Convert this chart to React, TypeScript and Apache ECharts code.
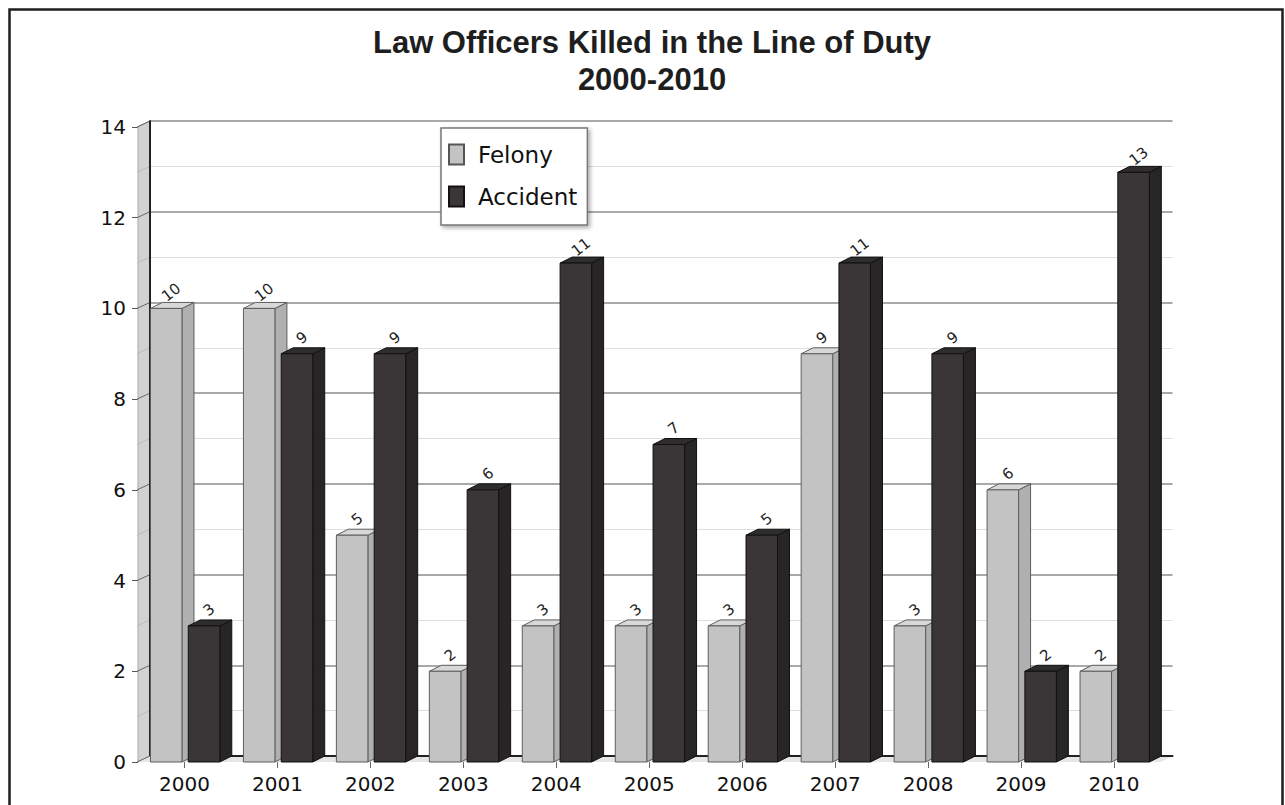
import React, { useEffect, useRef } from 'react';
import * as echarts from 'echarts';

const years = ['2000', '2001', '2002', '2003', '2004', '2005', '2006', '2007', '2008', '2009', '2010'];
const felony = [10, 10, 5, 2, 3, 3, 3, 9, 3, 6, 2];
const accident = [3, 9, 9, 6, 11, 7, 5, 11, 9, 2, 13];
const yMin = 0;
const yMax = 14;
const yInterval = 2;

const DX = 12;
const DY = -6;
const BAR_W = 31.5;

const felonyColors = { front: '#c3c3c3', top: '#d8d8d8', side: '#b0b0b0', stroke: '#5e5e5e' };
const accidentColors = { front: '#3a3637', top: '#2f2c2d', side: '#282526', stroke: '#111111' };

function makeBarRender(offset: number, colors: any) {
  return (params: any, api: any) => {
    const idx = api.value(0);
    const v = api.value(1);
    const top = api.coord([idx, v]);
    const base = api.coord([idx, 0]);
    const x0 = top[0] + offset;
    const x1 = x0 + BAR_W;
    const yt = top[1];
    const yb = base[1];
    return {
      type: 'group',
      children: [
        {
          type: 'polygon',
          shape: { points: [[x1, yt], [x1 + DX, yt + DY], [x1 + DX, yb + DY], [x1, yb]] },
          style: { fill: colors.side, stroke: colors.stroke, lineWidth: 1 },
        },
        {
          type: 'polygon',
          shape: { points: [[x0, yt], [x0 + DX, yt + DY], [x1 + DX, yt + DY], [x1, yt]] },
          style: { fill: colors.top, stroke: colors.stroke, lineWidth: 1 },
        },
        {
          type: 'rect',
          shape: { x: x0, y: yt, width: BAR_W, height: yb - yt },
          style: { fill: colors.front, stroke: colors.stroke, lineWidth: 1 },
        },
        {
          type: 'text',
          x: x0 + BAR_W / 2 + 5,
          y: yt - 16,
          rotation: (38 * Math.PI) / 180,
          style: {
            text: String(v),
            fill: '#222',
            font: '15px "DejaVu Sans"',
            align: 'center',
            verticalAlign: 'middle',
          },
        },
      ],
    };
  };
}

function decorRender(params: any, api: any) {
  const bw = api.size([1, 0])[0];
  const L = api.coord([0, 0])[0] - bw / 2;
  const R = api.coord([years.length - 1, 0])[0] + bw / 2;
  const y0 = api.coord([0, yMin])[1];
  const yTop = api.coord([0, yMax])[1];
  const children: any[] = [];
  children.push({
    type: 'polygon',
    shape: { points: [[L, y0], [L + DX, y0 + DY], [L + DX, yTop + DY], [L, yTop]] },
    style: { fill: '#d2d2d2', stroke: '#a8a8a8', lineWidth: 1 },
  });
  children.push({
    type: 'polygon',
    shape: { points: [[L, y0], [R, y0], [R + DX, y0 + DY], [L + DX, y0 + DY]] },
    style: { fill: '#e6e6e6', stroke: 'none' },
  });
  for (let k = yMin; k <= yMax; k++) {
    const yk = api.coord([0, k])[1];
    children.push({
      type: 'line',
      shape: { x1: L - 1, y1: yk, x2: L + DX, y2: yk + DY },
      style: { stroke: k % 2 === 0 ? '#666' : '#bcbcbc', lineWidth: 1 },
    });
  }
  children.push({
    type: 'line',
    shape: { x1: L + DX, y1: y0 + DY, x2: R + DX, y2: y0 + DY },
    style: { stroke: '#222', lineWidth: 2 },
  });
  children.push({
    type: 'line',
    shape: { x1: L + DX, y1: y0 + DY, x2: L + DX, y2: yTop + DY },
    style: { stroke: '#222', lineWidth: 2 },
  });
  return { type: 'group', children };
}

export default function App() {
  const ref = useRef<HTMLDivElement>(null);
  useEffect(() => {
    if (!ref.current) return;
    const chart = echarts.init(ref.current, null, { renderer: 'svg' });
    const gridW = 1022.5;
    const gridH = 635;
    chart.setOption({
      animation: false,
      backgroundColor: '#ffffff',
      title: {
        text: 'Law Officers Killed in the Line of Duty\n2000-2010',
        left: 647,
        textAlign: 'center',
        top: 19,
        textStyle: {
          fontFamily: '"Liberation Sans", Arial, sans-serif',
          fontWeight: 'bold',
          fontSize: 31,
          lineHeight: 37,
          color: '#1e1e1e',
        },
      },
      graphic: [
        {
          type: 'rect',
          shape: { x: 9.5, y: 9.5, width: 1273, height: 830 },
          style: { fill: 'none', stroke: '#1e1e1e', lineWidth: 2.5 },
          silent: true,
          z: 10,
        },
      ],
      legend: {
        data: ['Felony', 'Accident'],
        orient: 'vertical',
        left: 441,
        top: 128,
        itemWidth: 15,
        itemHeight: 20,
        itemGap: 19,
        padding: [15, 10, 17, 7],
        backgroundColor: '#ffffff',
        borderColor: '#777',
        borderWidth: 1.5,
        shadowBlur: 4,
        shadowColor: 'rgba(0,0,0,0.35)',
        shadowOffsetX: 2,
        shadowOffsetY: 2,
        icon: 'rect',
        textStyle: {
          fontFamily: '"DejaVu Sans", sans-serif',
          fontSize: 23,
          color: '#111',
          padding: [0, 0, 0, 9],
        },
      },
      grid: [
        { left: 138, top: 127, width: gridW, height: gridH },
        { left: 138 + DX, top: 127 + DY, width: gridW, height: gridH },
      ],
      xAxis: [
        {
          type: 'category',
          gridIndex: 0,
          data: years,
          axisLine: { show: false },
          axisTick: { show: true, alignWithLabel: true, length: 6, lineStyle: { color: '#666' } },
          axisLabel: {
            fontFamily: '"DejaVu Sans", sans-serif',
            fontSize: 20,
            color: '#111',
            margin: 12,
          },
          splitLine: { show: false },
        },
        {
          type: 'category',
          gridIndex: 1,
          data: years,
          axisLine: { show: true, lineStyle: { color: '#222', width: 2 } },
          axisTick: { show: false },
          axisLabel: { show: false },
          splitLine: { show: false },
        },
      ],
      yAxis: [
        {
          type: 'value',
          gridIndex: 0,
          min: yMin,
          max: yMax,
          interval: yInterval,
          axisLine: { show: false },
          axisTick: { show: true, length: 6, lineStyle: { color: '#555' } },
          axisLabel: {
            fontFamily: '"DejaVu Sans", sans-serif',
            fontSize: 20,
            color: '#111',
            margin: 12,
          },
          splitLine: { show: false },
        },
        {
          type: 'value',
          gridIndex: 1,
          min: yMin,
          max: yMax,
          interval: yInterval,
          axisLine: { show: true, lineStyle: { color: '#222', width: 2 } },
          axisTick: { show: false },
          axisLabel: { show: false },
          splitLine: { show: true, lineStyle: { color: '#8c8c8c', width: 1.5 } },
          minorTick: { show: false, splitNumber: 2 },
          minorSplitLine: { show: true, lineStyle: { color: '#dedede', width: 1 } },
        },
      ],
      series: [
        {
          type: 'custom',
          name: 'decor',
          xAxisIndex: 0,
          yAxisIndex: 0,
          z: 1,
          silent: true,
          renderItem: decorRender,
          data: [[0, 0]],
          encode: { x: 0, y: 1 },
        },
        {
          type: 'custom',
          name: 'Felony',
          xAxisIndex: 0,
          yAxisIndex: 0,
          z: 2,
          itemStyle: { color: felonyColors.front, borderColor: '#555', borderWidth: 1 },
          renderItem: makeBarRender(-34, felonyColors),
          data: felony.map((v, i) => [i, v]),
          encode: { x: 0, y: 1 },
        },
        {
          type: 'custom',
          name: 'Accident',
          xAxisIndex: 0,
          yAxisIndex: 0,
          z: 3,
          itemStyle: { color: accidentColors.front, borderColor: '#111', borderWidth: 1 },
          renderItem: makeBarRender(3.8, accidentColors),
          data: accident.map((v, i) => [i, v]),
          encode: { x: 0, y: 1 },
        },
      ],
    });
    return () => chart.dispose();
  }, []);
  return (
    <div
      ref={ref}
      style={{ position: 'absolute', left: 0, top: 0, width: 1285, height: 805 }}
    />
  );
}
